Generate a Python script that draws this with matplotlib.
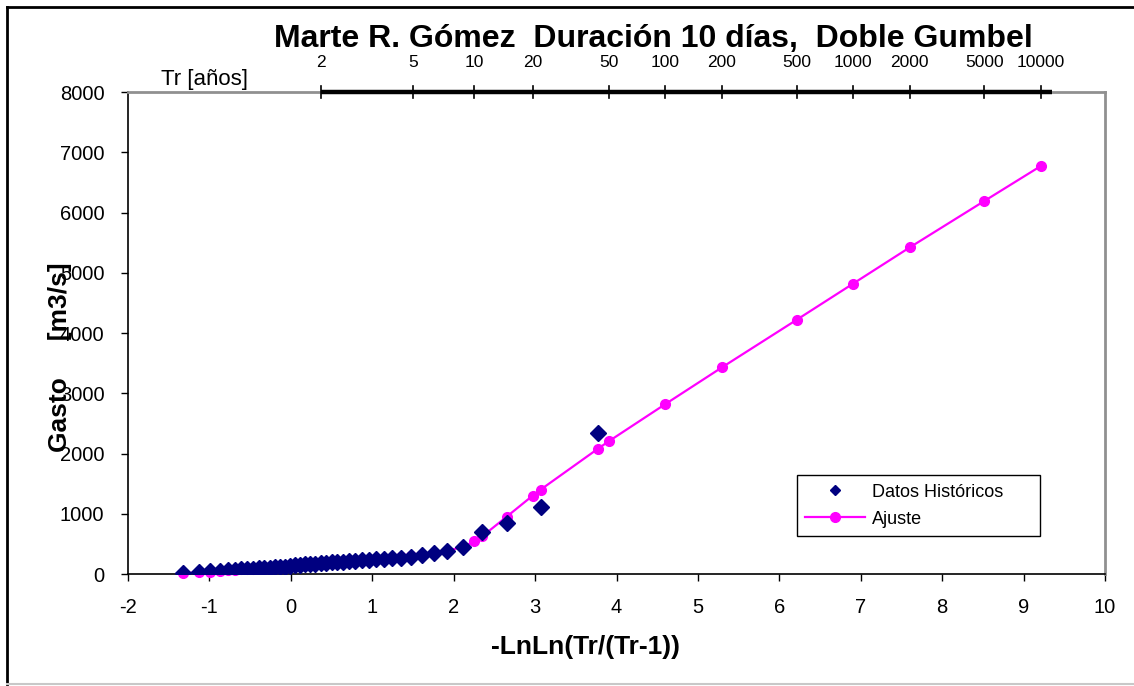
import numpy as np
import matplotlib
matplotlib.use("Agg")
import matplotlib.pyplot as plt
from matplotlib.lines import Line2D

plt.rcParams['font.family'] = ['Liberation Sans', 'DejaVu Sans']
plt.rcParams['axes.unicode_minus'] = False

# datos historicos: variable reducida -LnLn(Tr/(Tr-1)) y gasto [m3/s]
x_hist = [-1.33, -1.13, -0.99, -0.875, -0.777, -0.689, -0.609, -0.533, -0.462, -0.393,
          -0.327, -0.262, -0.198, -0.136, -0.073, -0.012, 0.050, 0.112, 0.175, 0.238,
          0.302, 0.367, 0.433, 0.501, 0.570, 0.642, 0.717, 0.794, 0.875, 0.960,
          1.049, 1.144, 1.246, 1.355, 1.475, 1.606, 1.753, 1.920, 2.115, 2.351,
          2.650, 3.068, 3.773]
q_hist = [15, 28, 42, 52, 60, 68, 75, 82, 88, 94,
          100, 106, 112, 118, 124, 130, 150, 156, 162, 168,
          174, 180, 186, 192, 198, 205, 212, 219, 226, 234,
          242, 251, 260, 272, 290, 315, 345, 380, 445, 695,
          845, 1115, 2345]

# ajuste doble Gumbel
x_fit = [-1.33, -1.13, -0.99, -0.875, -0.777, -0.689, -0.609, -0.533, -0.462, -0.393,
         -0.327, -0.262, -0.198, -0.136, -0.073, -0.012, 0.050, 0.112, 0.175, 0.238,
         0.302, 0.367, 0.433, 0.501, 0.570, 0.642, 0.717, 0.794, 0.875, 0.960,
         1.049, 1.144, 1.246, 1.355, 1.475, 1.606, 1.753, 1.920, 2.115, 2.250,
         2.351, 2.650, 2.970, 3.068, 3.773, 3.902, 4.600, 5.296, 6.214, 6.907,
         7.601, 8.517, 9.210]
q_fit = [14, 27, 40, 51, 60, 68, 76, 83, 90, 96,
         102, 108, 114, 120, 126, 133, 140, 147, 153, 160,
         166, 173, 180, 187, 194, 202, 210, 218, 227, 236,
         246, 257, 269, 283, 300, 320, 345, 385, 450, 540,
         625, 950, 1300, 1400, 2080, 2200, 2820, 3430, 4220, 4820,
         5420, 6190, 6770]

tr_ticks = [2, 5, 10, 20, 50, 100, 200, 500, 1000, 2000, 5000, 10000]


def reducida(tr):
    tr = np.asarray(tr, dtype=float)
    return -np.log(-np.log(1 - 1 / tr))


fig = plt.figure(figsize=(11.34, 6.86), dpi=100)
ax = fig.add_axes([128 / 1134, 112 / 686, 977 / 1134, 482 / 686])

ax.plot(x_fit, q_fit, color='#FF00FF', lw=1.6, marker='o', ms=7,
        markeredgecolor='#FF00FF', zorder=3, clip_on=False)
ax.plot(x_hist, q_hist, ls='none', marker='D', ms=8.5, color='#000080', zorder=4)

ax.set_xlim(-2, 10)
ax.set_ylim(0, 8000)
ax.set_xticks(range(-2, 11))
ax.set_yticks(range(0, 8001, 1000))
ax.tick_params(direction='out', length=5, width=1, labelsize=14.5, color='black')
ax.tick_params(axis='x', pad=12)
ax.tick_params(axis='y', pad=12)

for s in ['left', 'bottom']:
    ax.spines[s].set_color('black')
    ax.spines[s].set_linewidth(1.2)
for s in ['top', 'right']:
    ax.spines[s].set_color('#909090')
    ax.spines[s].set_linewidth(2)

fig.text(586 / 1134, 1 - 647 / 686, '-LnLn(Tr/(Tr-1))', ha='center', va='center',
         fontsize=19, fontweight='bold')
ax.text(-0.070, 0.45, 'Gasto     [m3/s]', transform=ax.transAxes, rotation=90,
        fontsize=19, fontweight='bold', ha='center', va='center')

# eje de periodos de retorno
xt = reducida(tr_ticks)
ax.plot([xt[0], 9.35], [8000, 8000], color='black', lw=3.2, clip_on=False, zorder=5,
        solid_capstyle='butt')
for x, t in zip(xt, tr_ticks):
    ax.plot([x, x], [7900, 8100], color='black', lw=1.2, clip_on=False, zorder=5)
    ax.text(x, 8490, str(t), ha='center', va='center', fontsize=12.5)
ax.text(-1.06, 8210, 'Tr [años]', ha='center', va='center', fontsize=16)

fig.text(653 / 1134, 1 - 39 / 686, 'Marte R. Gómez  Duración 10 días,  Doble Gumbel',
         ha='center', va='center', fontsize=23, fontweight='bold')

handles = [Line2D([], [], ls='none', marker='D', ms=5, color='#000080'),
           Line2D([], [], color='#FF00FF', lw=1.6, marker='o', ms=7)]
leg = ax.legend(handles, ['Datos Históricos', 'Ajuste'], loc='center',
                bbox_to_anchor=(0.685, 0.077, 0.248, 0.130), mode='expand',
                borderaxespad=0, fontsize=13, frameon=True, fancybox=False,
                edgecolor='black', framealpha=1, handlelength=3.3, handletextpad=0.4,
                borderpad=0.45, labelspacing=0.55)
leg.get_frame().set_linewidth(1)

# marco exterior
fig.add_artist(Line2D([7 / 1134, 7 / 1134], [2 / 686, 1 - 7 / 686], color='black', lw=2,
                      transform=fig.transFigure))
fig.add_artist(Line2D([7 / 1134, 1], [1 - 7 / 686, 1 - 7 / 686], color='black', lw=2,
                      transform=fig.transFigure))
fig.add_artist(Line2D([7 / 1134, 1], [2 / 686, 2 / 686], color='#c8c8c8', lw=1.5,
                      transform=fig.transFigure))

fig.savefig('out.png', dpi=100)
